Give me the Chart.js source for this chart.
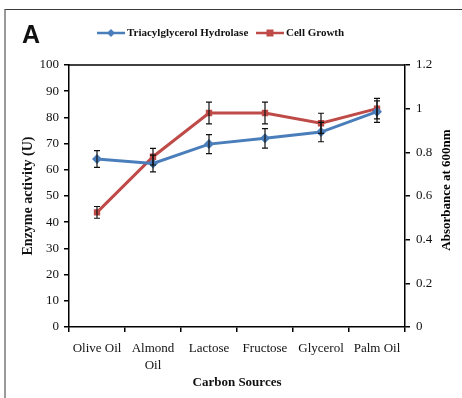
<!DOCTYPE html>
<html>
<head>
<meta charset="utf-8">
<script src="https://cdn.jsdelivr.net/npm/chart.js@4.4.1/dist/chart.umd.min.js"></script>
<style>
  html, body { margin: 0; padding: 0; background: #fff; }
  #wrap { position: relative; width: 462px; height: 398px; overflow: hidden; }
  #frame { position: absolute; left: 4px; top: 9px; width: 470px; height: 400px;
           border-top: 1.5px solid #3a3a3a; border-left: 2px solid #9a9a9a; pointer-events: none; }
  #panel { position: absolute; left: 22px; top: 20px; font: bold 25px "Liberation Sans", Arial, sans-serif; color: #111; }
  canvas { position: absolute; left: 0; top: 0; }
</style>
</head>
<body>
<div id="wrap">
  <canvas id="c" width="462" height="398"></canvas>
  <div id="frame"></div>
  <div id="panel">A</div>
</div>
<script>
// Carbon sources tested
const categories = ['Olive Oil', ['Almond', 'Oil'], 'Lactose', 'Fructose', 'Glycerol', 'Palm Oil'];

// Triacylglycerol hydrolase activity (U) with standard deviation
const enzymeActivity = [64.1, 62.4, 69.8, 72.0, 74.4, 82.2];
const enzymeError    = [3.2, 3.2, 3.6, 3.7, 3.7, 4.1];

// Cell growth, absorbance at 600 nm, with standard deviation
const cellGrowth = [0.525, 0.78, 0.98, 0.98, 0.933, 1.0];
const growthError = [0.027, 0.038, 0.05, 0.05, 0.046, 0.047];

const BLUE = '#4a7ebb';
const RED = '#be4b48';
const SERIF = '"Liberation Serif", "Times New Roman", serif';

// Vertical error bars with caps, drawn on top of the lines
const errorBars = {
  id: 'errorBars',
  afterDatasetsDraw(chart) {
    const ctx = chart.ctx;
    ctx.save();
    ctx.strokeStyle = '#111';
    ctx.lineWidth = 1.2;
    chart.data.datasets.forEach((ds, di) => {
      const meta = chart.getDatasetMeta(di);
      const yScale = chart.scales[ds.yAxisID];
      meta.data.forEach((pt, i) => {
        const v = ds.data[i], e = ds.errors[i];
        const yTop = yScale.getPixelForValue(v + e);
        const yBot = yScale.getPixelForValue(v - e);
        const x = pt.x;
        ctx.beginPath();
        ctx.moveTo(x, yTop); ctx.lineTo(x, yBot);
        ctx.moveTo(x - 3, yTop); ctx.lineTo(x + 3, yTop);
        ctx.moveTo(x - 3, yBot); ctx.lineTo(x + 3, yBot);
        ctx.stroke();
      });
    });
    ctx.restore();
  }
};

// Plot-area top edge, the upward-reading right axis title and the line+marker legend
const decorations = {
  id: 'decorations',
  afterDraw(chart) {
    const ctx = chart.ctx;
    const a = chart.chartArea;
    ctx.save();
    ctx.strokeStyle = '#000';
    ctx.lineWidth = 1.5;
    ctx.beginPath();
    ctx.moveTo(a.left, a.top); ctx.lineTo(a.right, a.top);
    ctx.stroke();

    ctx.fillStyle = '#000';
    ctx.font = 'bold 13px ' + SERIF;
    ctx.textAlign = 'center';
    ctx.textBaseline = 'middle';
    ctx.translate(447, (a.top + a.bottom) / 2 - 6);
    ctx.rotate(-Math.PI / 2);
    ctx.fillText('Absorbance at 600nm', 0, 0);
    ctx.restore();

    ctx.save();
    const y = 33;
    ctx.font = 'bold 11px ' + SERIF;
    ctx.textBaseline = 'middle';
    ctx.textAlign = 'left';
    const items = [
      { x: 97, color: BLUE, shape: 'diamond', label: chart.data.datasets[0].label },
      { x: 256, color: RED, shape: 'square', label: chart.data.datasets[1].label }
    ];
    items.forEach(it => {
      ctx.strokeStyle = it.color;
      ctx.fillStyle = it.color;
      ctx.lineWidth = 2.5;
      ctx.beginPath();
      ctx.moveTo(it.x, y); ctx.lineTo(it.x + 28, y);
      ctx.stroke();
      const cx = it.x + 14;
      ctx.beginPath();
      if (it.shape === 'diamond') {
        ctx.moveTo(cx, y - 4); ctx.lineTo(cx + 4, y); ctx.lineTo(cx, y + 4); ctx.lineTo(cx - 4, y);
      } else {
        ctx.rect(cx - 3.5, y - 3.5, 7, 7);
      }
      ctx.closePath();
      ctx.fill();
      ctx.fillStyle = '#111';
      ctx.fillText(it.label, it.x + 30, y + 0.5);
    });
    ctx.restore();
  }
};

const tickFont = { family: SERIF, size: 13 };

new Chart(document.getElementById('c'), {
  type: 'line',
  data: {
    labels: categories,
    datasets: [
      {
        label: 'Triacylglycerol Hydrolase',
        data: enzymeActivity,
        errors: enzymeError,
        yAxisID: 'y',
        borderColor: BLUE,
        backgroundColor: BLUE,
        borderWidth: 3,
        pointStyle: 'rectRot',
        pointRadius: 5,
        pointBorderWidth: 0,
        tension: 0
      },
      {
        label: 'Cell Growth',
        data: cellGrowth,
        errors: growthError,
        yAxisID: 'y1',
        borderColor: RED,
        backgroundColor: RED,
        borderWidth: 3,
        pointStyle: 'rect',
        pointRadius: 4.5,
        pointBorderWidth: 0,
        tension: 0
      }
    ]
  },
  options: {
    responsive: false,
    animation: false,
    layout: { padding: { top: 65, left: 0, right: 0, bottom: 0 } },
    plugins: { legend: { display: false }, tooltip: { enabled: false } },
    scales: {
      x: {
        offset: true,
        grid: { offset: true, drawOnChartArea: false, drawTicks: true, tickLength: 5, color: '#000', lineWidth: 1.5 },
        border: { display: true, color: '#000', width: 1.5 },
        ticks: { color: '#111', font: { ...tickFont, lineHeight: 1.3 }, padding: 8, maxRotation: 0, autoSkip: false },
        title: { display: true, text: 'Carbon Sources', color: '#111',
                 font: { family: SERIF, size: 13, weight: 'bold' }, padding: { top: 0, bottom: 8 } },
        afterFit(scale) { scale.height = 71; }
      },
      y: {
        position: 'left',
        min: 0, max: 100,
        ticks: { stepSize: 10, color: '#111', font: tickFont, padding: 5 },
        grid: { drawOnChartArea: false, drawTicks: true, tickLength: 5, color: '#000', lineWidth: 1.5 },
        border: { display: true, color: '#000', width: 1.5 },
        title: { display: true, text: 'Enzyme activity (U)', color: '#111',
                 font: { family: SERIF, size: 14, weight: 'bold' }, padding: { top: 20, bottom: 0 } },
        afterFit(scale) { scale.width = 69; }
      },
      y1: {
        position: 'right',
        min: 0, max: 1.2,
        ticks: { stepSize: 0.2, color: '#111', font: tickFont, padding: 6,
                 callback: v => String(Number(v.toFixed(1))) },
        grid: { drawOnChartArea: false, drawTicks: true, tickLength: 5, color: '#000', lineWidth: 1.5 },
        border: { display: true, color: '#000', width: 1.5 },
        afterFit(scale) { scale.width = 57; }
      }
    }
  },
  plugins: [errorBars, decorations]
});
</script>
</body>
</html>
